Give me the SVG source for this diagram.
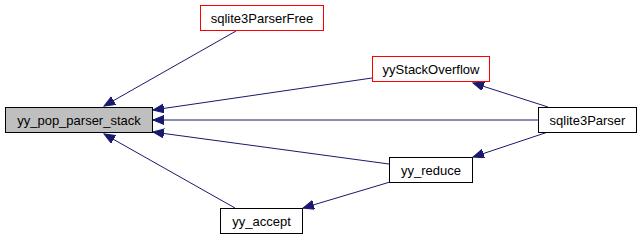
<svg xmlns="http://www.w3.org/2000/svg" width="643" height="240" viewBox="0 0 643 240">
  <style>
    .box { fill: #ffffff; stroke: #000000; stroke-width: 1; }
    .sel { fill: #bfbfbf; }
    .red { stroke: #ff0000; }
    .lbl { font-family: "Liberation Sans", Arial, sans-serif; font-size: 13px; fill: #000000; text-anchor: middle; }
    .edge { fill: none; stroke: #191970; stroke-width: 1; marker-end: url(#arrow); }
  </style>
  <defs>
    <marker id="arrow" markerUnits="userSpaceOnUse" markerWidth="12" markerHeight="10" refX="11" refY="4.5" orient="auto">
      <path d="M0,0 L11,4.5 L0,9 Z" fill="#191970" stroke="#191970" stroke-width="1"/>
    </marker>
  </defs>
  <rect width="643" height="240" fill="#ffffff"/>

  <g id="edges">
    <path class="edge" d="M236,31 L104,106"/>
    <path class="edge" d="M372,78 L153,110"/>
    <path class="edge" d="M538,120 L153,120"/>
    <path class="edge" d="M389,164 L153,132"/>
    <path class="edge" d="M235,208 L104,134"/>
    <path class="edge" d="M548,107 L473,83"/>
    <path class="edge" d="M548,132 L473,157"/>
    <path class="edge" d="M390,182 L303,208"/>
  </g>

  <g id="yy_pop_parser_stack">
    <rect class="box sel" x="5.5" y="107.5" width="147" height="25"/>
    <text class="lbl" x="79" y="124.5">yy_pop_parser_stack</text>
  </g>
  <g id="sqlite3ParserFree">
    <rect class="box red" x="200.5" y="5.5" width="123" height="25"/>
    <text class="lbl" x="262" y="22.5">sqlite3ParserFree</text>
  </g>
  <g id="yyStackOverflow">
    <rect class="box red" x="372.5" y="56.5" width="117" height="25"/>
    <text class="lbl" x="431" y="73.5">yyStackOverflow</text>
  </g>
  <g id="sqlite3Parser">
    <rect class="box" x="538.5" y="107.5" width="98" height="25"/>
    <text class="lbl" x="587.5" y="124.5">sqlite3Parser</text>
  </g>
  <g id="yy_reduce">
    <rect class="box" x="389.5" y="157.5" width="83" height="25"/>
    <text class="lbl" x="431" y="174.5">yy_reduce</text>
  </g>
  <g id="yy_accept">
    <rect class="box" x="220.5" y="208.5" width="82" height="25"/>
    <text class="lbl" x="261.5" y="225.5">yy_accept</text>
  </g>
</svg>
